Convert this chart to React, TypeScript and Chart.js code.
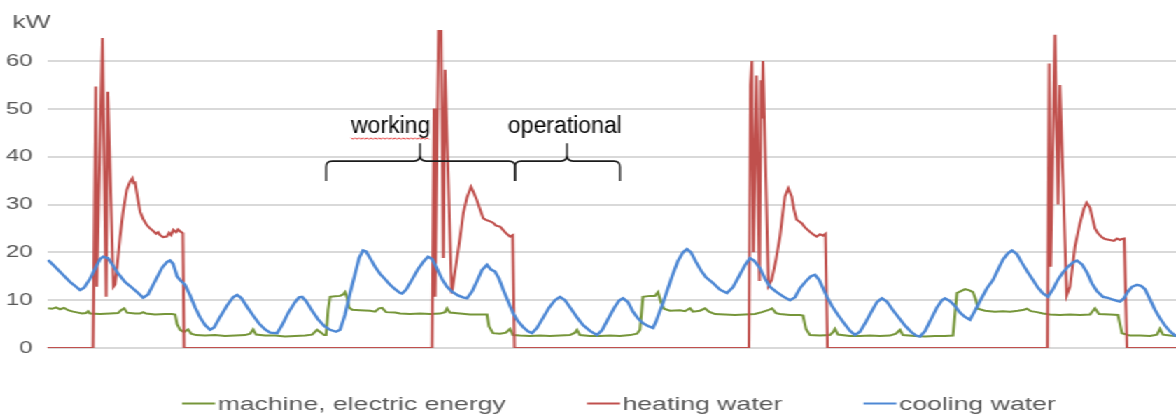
import React, { useEffect, useRef } from 'react';
import { Chart, registerables } from 'chart.js';

Chart.register(...registerables);

// The reference picture is horizontally stretched; we draw at 840px and stretch by 1.4
const STRETCH = 1.4;
const CANVAS_W = 840;
const CANVAS_H = 417;

const seriesNames = ['machine, electric energy', 'heating water', 'cooling water'];
const seriesColors = ['#76963a', '#c0504d', '#4e88d4'];
const seriesWidths = [2, 2, 2.4];
const yTickValues = [0, 10, 20, 30, 40, 50, 60];
const yMax = 66.5;
const timeMax = 1129;
const unitLabel = 'kW';

// [time, kW]
const machineElectric: [number, number][] = [
  [1, 8.3], [5, 8.2], [9, 8.5], [13, 8.1], [17, 8.4], [21, 7.9], [26, 7.6], [31, 7.4], [35, 7.2], [39, 7.3],
  [41, 7.7], [43, 7.2], [53, 7.1], [63, 7.2], [71, 7.3], [74, 7.9], [77, 8.3], [80, 7.4], [88, 7.2], [93, 7.2],
  [96, 7.5], [99, 7.2], [108, 7.0], [118, 7.1], [125, 7.1], [128, 7.0], [130, 5.0], [133, 3.8], [137, 3.3], [141, 3.9],
  [144, 3.0], [149, 2.7], [158, 2.6], [168, 2.7], [178, 2.5], [188, 2.6], [198, 2.7], [203, 3.0], [206, 3.9], [209, 2.8],
  [218, 2.6], [228, 2.6], [238, 2.4], [248, 2.5], [258, 2.6], [265, 2.8], [270, 3.8], [274, 3.2], [277, 2.7], [279, 2.7],
  [281, 8.0], [283, 10.7], [288, 10.8], [293, 10.9], [296, 11.2], [298, 11.7], [300, 10.5], [302, 8.5], [305, 8.0], [313, 7.9],
  [323, 7.8], [328, 7.6], [332, 8.3], [335, 8.4], [339, 7.5], [348, 7.4], [353, 7.2], [363, 7.1], [373, 7.2], [383, 7.1],
  [393, 7.2], [398, 7.5], [400, 8.3], [403, 7.4], [413, 7.2], [423, 7.0], [433, 7.0], [440, 7.0], [442, 4.5], [446, 3.1],
  [453, 3.0], [459, 3.2], [463, 4.0], [466, 2.7], [473, 2.6], [483, 2.5], [493, 2.6], [503, 2.5], [513, 2.6], [523, 2.7],
  [528, 3.2], [530, 3.8], [533, 2.7], [543, 2.5], [553, 2.5], [563, 2.6], [573, 2.5], [583, 2.7], [590, 3.0], [593, 3.8],
  [596, 10.7], [603, 10.9], [608, 10.9], [611, 11.7], [614, 9.5], [617, 8.2], [623, 7.8], [633, 7.9], [638, 7.7], [643, 8.3],
  [646, 7.6], [653, 7.8], [658, 8.3], [662, 7.6], [668, 7.1], [678, 7.0], [688, 6.9], [698, 7.0], [708, 7.1], [715, 7.5],
  [721, 7.9], [725, 8.3], [729, 7.3], [733, 7.1], [743, 6.9], [753, 6.9], [756, 6.8], [759, 4.0], [763, 2.7], [773, 2.6],
  [783, 2.7], [786, 3.3], [788, 4.0], [791, 2.8], [803, 2.5], [813, 2.5], [823, 2.6], [833, 2.5], [843, 2.6], [849, 3.0],
  [853, 3.8], [856, 2.7], [868, 2.5], [878, 2.4], [888, 2.5], [898, 2.5], [906, 2.6], [908, 7.0], [910, 11.5], [914, 11.9],
  [918, 12.3], [922, 12.1], [926, 11.7], [929, 10.0], [931, 8.2], [938, 7.8], [948, 7.6], [956, 7.7], [963, 7.6], [971, 7.8],
  [977, 8.0], [980, 8.2], [984, 7.7], [990, 7.5], [996, 7.2], [1003, 7.0], [1013, 6.9], [1023, 7.0], [1033, 6.9], [1043, 7.0],
  [1048, 8.3], [1052, 7.1], [1063, 7.0], [1071, 6.9], [1073, 5.0], [1075, 3.1], [1083, 2.6], [1093, 2.6], [1103, 2.5], [1110, 2.8],
  [1113, 4.0], [1116, 2.8], [1123, 2.6], [1129, 2.5],
];

const heatingWater: [number, number][] = [
  [0, 0], [46, 0], [48.7, 54.7], [49.7, 12.8], [55.3, 64.8], [59, 10.7], [60.7, 53.6], [66.3, 12.8], [68, 13.3], [70, 17],
  [73, 23.3], [76, 28.5], [79.7, 33.1], [83, 34.8], [85.3, 35.5], [86.5, 34.5], [88, 34.6], [90.5, 31.5], [93, 28.5], [96, 27],
  [99.7, 25.7], [103, 25.0], [106, 24.5], [109, 23.9], [111, 24.2], [113, 23.6], [116, 23.2], [119.7, 23.3], [122, 24.1], [124, 23.6],
  [126.3, 24.7], [129, 24.2], [131, 24.8], [133, 24.4], [135.7, 24.0], [137, 0],
  [385, 0], [387, 50.1], [388, 10.7], [393, 90], [396.3, 18.8], [398, 58.2], [404.7, 11.4], [409.7, 18.4], [413, 23], [416.3, 28.2],
  [420, 31.5], [424, 33.7], [426, 32.8], [429.7, 31], [433, 29], [436.3, 27.1], [439, 26.8], [443, 26.5], [446, 26.2], [449, 25.6],
  [453, 25.4], [456, 24.7], [459, 24.0], [463, 23.3], [465.7, 23.6], [467.5, 0],
  [702, 0], [703.5, 55], [705, 60], [706.5, 20], [709.5, 57], [712.5, 14], [714, 56], [715, 48], [716, 60], [721.5, 13],
  [724.7, 14.2], [729, 18.5], [733, 23.3], [736, 28.5], [738, 31.7], [741.3, 33.4], [744.7, 31.7], [747, 29], [749.7, 26.8], [752, 26.5],
  [754.7, 26.1], [758, 25.2], [763, 24.3], [766, 23.8], [769.7, 23.3], [773, 23.8], [776, 23.5], [778.5, 23.9], [780.5, 0],
  [1000.5, 0], [1002.3, 59.5], [1003.7, 17], [1008, 65.5], [1011, 30], [1013, 55], [1019.7, 11], [1023, 12.8], [1028, 21.2], [1033, 26.1],
  [1037, 29.2], [1039.7, 30.4], [1043, 29.3], [1048, 25], [1051, 24], [1054.7, 23.2], [1058, 22.8], [1063, 22.6], [1067, 22.4], [1070, 22.9],
  [1073, 22.6], [1075, 22.8], [1077.3, 22.9], [1080, 0], [1129, 0],
];

const coolingWater: [number, number][] = [
  [1, 18.4], [8, 17.0], [15, 15.5], [23, 13.8], [29, 12.8], [33, 12.1], [37, 12.6], [43, 14.5], [49, 17.0], [53, 18.6],
  [56, 19.1], [61, 18.8], [65, 17.5], [71, 15.6], [78, 13.8], [85, 12.6], [91, 11.5], [96, 10.5], [101, 11.2], [108, 14.0],
  [115, 16.8], [120, 18.0], [123, 18.3], [126, 17.6], [130, 15.0], [133, 14.2], [138, 13.2], [143, 11.0], [148, 8.5], [153, 6.4],
  [158, 4.8], [163, 3.8], [167, 4.3], [173, 6.5], [180, 8.9], [186, 10.6], [190, 11.1], [194, 10.5], [200, 8.6], [206, 6.8],
  [212, 5.1], [218, 3.9], [223, 3.2], [230, 3.1], [235, 4.8], [241, 7.3], [248, 9.6], [252, 10.6], [255, 10.7], [259, 9.8],
  [265, 7.8], [271, 6.0], [277, 4.6], [283, 3.8], [289, 3.4], [293, 3.8], [298, 7.0], [303, 11.5], [308, 15.5], [312, 18.8],
  [316, 20.4], [319, 20.2], [323, 18.8], [328, 17.0], [333, 15.5], [338, 14.4], [343, 13.2], [348, 12.3], [353, 11.5], [355, 11.4],
  [359, 12.2], [365, 14.3], [371, 16.5], [377, 18.2], [381, 19.1], [385, 18.6], [390, 16.6], [395, 14.4], [400, 12.8], [405, 11.8],
  [411, 11.0], [416, 10.6], [420, 10.4], [425, 11.8], [430, 14.0], [435, 16.3], [440, 17.4], [444, 16.4], [448, 16.0], [452, 14.5],
  [457, 11.8], [462, 9.3], [466, 7.3], [471, 5.6], [476, 4.4], [481, 3.5], [485, 3.1], [490, 4.2], [496, 6.3], [502, 8.4],
  [508, 10.0], [513, 10.7], [518, 10.0], [524, 8.2], [530, 6.4], [536, 4.8], [543, 3.6], [550, 2.7], [555, 3.7], [561, 6.0],
  [567, 8.3], [572, 9.9], [576, 10.4], [581, 9.6], [586, 7.6], [591, 6.2], [596, 5.2], [601, 4.6], [606, 4.2], [609, 5.5],
  [613, 7.8], [616, 9.4], [621, 12.5], [626, 15.5], [631, 18.2], [636, 20.0], [640, 20.7], [644, 20.0], [649, 18.0], [654, 16.2],
  [659, 14.8], [666, 13.6], [673, 12.2], [680, 11.5], [686, 12.7], [692, 15.0], [698, 17.3], [703, 18.8], [707, 18.3], [713, 16.7],
  [718, 14.5], [723, 12.8], [729, 11.8], [736, 10.8], [743, 10.0], [748, 10.6], [753, 12.5], [759, 14.0], [764, 15.0], [768, 15.3],
  [772, 14.3], [776, 12.5], [780, 10.7], [785, 8.8], [791, 6.9], [797, 5.2], [803, 3.6], [808, 2.7], [813, 3.4], [819, 5.5],
  [825, 7.8], [830, 9.6], [835, 10.4], [840, 9.7], [846, 7.9], [852, 6.3], [858, 4.7], [864, 3.4], [869, 2.6], [873, 2.4],
  [878, 3.5], [884, 6.0], [890, 8.5], [895, 10.0], [898, 10.4], [903, 9.8], [908, 8.8], [913, 7.4], [918, 6.5], [923, 5.9],
  [928, 7.8], [934, 10.2], [940, 12.5], [946, 14.2], [951, 16.4], [956, 18.5], [961, 19.8], [965, 20.4], [970, 19.6], [975, 17.8],
  [981, 15.8], [986, 14.2], [991, 12.6], [996, 11.4], [1001, 10.7], [1006, 12.3], [1011, 14.3], [1016, 15.8], [1021, 17.0], [1026, 17.9],
  [1030, 18.3], [1035, 17.5], [1040, 15.8], [1045, 13.5], [1050, 11.9], [1056, 10.7], [1061, 10.5], [1066, 10.1], [1071, 9.8], [1073, 9.7],
  [1077, 10.4], [1081, 11.8], [1085, 12.8], [1090, 13.2], [1094, 13.0], [1098, 12.3], [1103, 10.2], [1108, 8.0], [1113, 6.2], [1118, 4.7],
  [1123, 3.5], [1129, 2.4],
];

// annotation braces: [start time, end time, tip time]
const braceLabels = ['working', 'operational'];
const braceSpans: [number, number, number][] = [[279, 468, 373], [468, 573, 520]];
const braceLabelStarts = [304, 461];
const braceLineKW = 39.1;
const braceEndKW = 34.9;
const braceTipKW = 42.8;
const braceTextKW = 45.0;

const FONT = '"Liberation Sans", Arial, Helvetica, sans-serif';

const overlayPlugin = {
  id: 'overlay',
  afterDraw(chart: any) {
    const ctx: CanvasRenderingContext2D = chart.ctx;
    const xs = chart.scales.x;
    const ys = chart.scales.y;

    // unit label + legend (stretched like the rest)
    ctx.save();
    ctx.font = `19px ${FONT}`;
    ctx.fillStyle = '#595959';
    ctx.textAlign = 'left';
    ctx.textBaseline = 'alphabetic';
    ctx.fillText(unitLabel, 8.8, 28);

    ctx.font = `19px ${FONT}`;
    let x = 130;
    const ly = 403.5;
    seriesNames.forEach((name, i) => {
      ctx.strokeStyle = seriesColors[i];
      ctx.lineWidth = 2;
      ctx.beginPath();
      ctx.moveTo(x, ly);
      ctx.lineTo(x + 23.6, ly);
      ctx.stroke();
      ctx.fillStyle = '#595959';
      ctx.fillText(name, x + 25.4, 410);
      x += 25.4 + ctx.measureText(name).width + 58;
    });
    ctx.restore();

    // annotations (not stretched)
    ctx.save();
    ctx.scale(1 / STRETCH, 1);
    const sx = (t: number) => xs.getPixelForValue(t) * STRETCH;
    const yLine = ys.getPixelForValue(braceLineKW);
    const yEnd = ys.getPixelForValue(braceEndKW);
    const yTip = ys.getPixelForValue(braceTipKW);
    const r = 6;
    ctx.strokeStyle = '#1a1a1a';
    ctx.lineWidth = 1.8;
    braceSpans.forEach(([a, b, m]) => {
      const x0 = sx(a), x1 = sx(b), xm = sx(m);
      ctx.beginPath();
      ctx.moveTo(x0, yEnd);
      ctx.lineTo(x0, yLine + r);
      ctx.quadraticCurveTo(x0, yLine, x0 + r, yLine);
      ctx.lineTo(xm - r, yLine);
      ctx.quadraticCurveTo(xm, yLine, xm, yLine - r);
      ctx.lineTo(xm, yTip);
      ctx.moveTo(xm, yLine - r);
      ctx.quadraticCurveTo(xm, yLine, xm + r, yLine);
      ctx.lineTo(x1 - r, yLine);
      ctx.quadraticCurveTo(x1, yLine, x1, yLine + r);
      ctx.lineTo(x1, yEnd);
      ctx.stroke();
    });
    ctx.font = `23px ${FONT}`;
    ctx.fillStyle = '#000000';
    ctx.textAlign = 'left';
    const yText = ys.getPixelForValue(braceTextKW);
    braceLabels.forEach((lab, i) => {
      ctx.fillText(lab, sx(braceLabelStarts[i]), yText);
    });
    // spell-check squiggle under first label
    const w0 = ctx.measureText(braceLabels[0]).width;
    const ux0 = sx(braceLabelStarts[0]);
    const uy = yText + 5;
    ctx.strokeStyle = '#e02828';
    ctx.lineWidth = 1;
    ctx.beginPath();
    for (let k = 0; k <= Math.floor(w0 / 2); k++) {
      const px = ux0 + k * 2;
      const py = uy + (k % 2 === 0 ? 0 : 1.5);
      if (k === 0) ctx.moveTo(px, py); else ctx.lineTo(px, py);
    }
    ctx.stroke();
    ctx.restore();
  },
};

export default function App() {
  const ref = useRef<HTMLCanvasElement | null>(null);
  useEffect(() => {
    if (!ref.current) return;
    const mk = (i: number, data: [number, number][], order: number) => ({
      label: seriesNames[i],
      data: data.map(([x, y]) => ({ x, y })),
      borderColor: seriesColors[i],
      backgroundColor: seriesColors[i],
      borderWidth: seriesWidths[i],
      pointRadius: 0,
      tension: 0,
      fill: false,
      order,
    });
    const chart = new Chart(ref.current, {
      type: 'line',
      data: {
        datasets: [mk(0, machineElectric, 2), mk(1, heatingWater, 1), mk(2, coolingWater, 0)],
      },
      options: {
        animation: false,
        responsive: false,
        devicePixelRatio: 1,
        layout: { padding: { top: 30, bottom: 69, left: 0, right: 0 } },
        plugins: { legend: { display: false }, tooltip: { enabled: false } },
        scales: {
          x: { type: 'linear', min: 0, max: timeMax, display: false },
          y: {
            min: 0,
            max: yMax,
            afterBuildTicks: (axis: any) => {
              axis.ticks = yTickValues.map((v) => ({ value: v }));
            },
            afterFit: (axis: any) => {
              axis.width = 33.6;
            },
            grid: { color: '#d9d9d9', lineWidth: 2, drawTicks: false },
            border: { display: false },
            ticks: { padding: 10.5, color: '#595959', font: { family: FONT, size: 17 } },
          },
        },
      },
      plugins: [overlayPlugin],
    } as any);
    return () => chart.destroy();
  }, []);
  return (
    <div
      style={{
        position: 'absolute',
        left: 0,
        top: 0,
        width: CANVAS_W,
        height: CANVAS_H,
        transform: `scaleX(${STRETCH})`,
        transformOrigin: '0 0',
        background: '#ffffff',
      }}
    >
      <canvas ref={ref} width={CANVAS_W} height={CANVAS_H} style={{ display: 'block' }} />
    </div>
  );
}
